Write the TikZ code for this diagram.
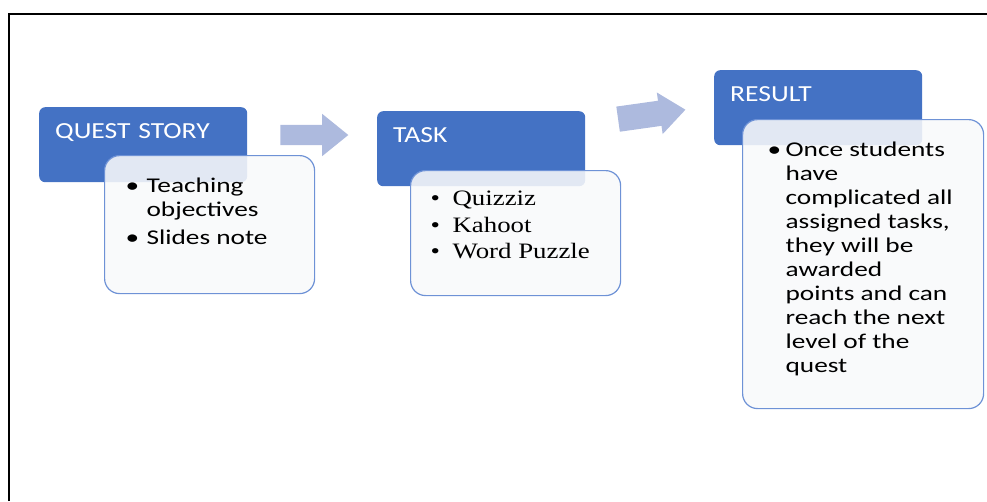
\documentclass[tikz,border=0pt]{standalone}
\usepackage{fontspec}
\usepackage{tikz}
\usetikzlibrary{shapes.arrows}

\newfontfamily\headfont{Carlito}[FakeStretch=1.2]
\newfontfamily\bodyfont{Carlito}[FakeStretch=1.3]
\newfontfamily\taskfont{Liberation Serif}[FakeStretch=1.22]

\definecolor{headblue}{RGB}{68,114,196}
\definecolor{bodyline}{RGB}{110,146,214}
\definecolor{bodyfill}{RGB}{248,249,250}
\definecolor{arrowfill}{RGB}{173,186,222}

\begin{document}
\begin{tikzpicture}[
  x=1pt, y=-1pt,
  headbox/.style={
    rectangle,
    rounded corners=6pt,
    fill=headblue,
    text=white,
    anchor=north west,
    align=left,
    inner sep=16pt,
    text width=176pt,
    text height=15pt,
    text depth=28pt,
    font=\headfont\fontsize{23}{27}\selectfont
  },
  bodybox/.style={
    rectangle,
    rounded corners=15pt,
    draw=bodyline,
    line width=1.2pt,
    fill=bodyfill,
    fill opacity=0.88,
    text opacity=1,
    anchor=north west,
    inner ysep=16pt,
    font=\bodyfont\fontsize{21}{24}\selectfont
  },
  flowarrow/.style={
    single arrow,
    fill=arrowfill,
    minimum height=68pt,
    minimum width=42pt,
    single arrow head extend=11pt,
    single arrow tip angle=78,
    inner xsep=0pt,
    inner ysep=10pt
  }
]
  \useasboundingbox (0,0) rectangle (987,501);
  \draw[line width=1.5pt] (9,501) -- (9,14) -- (987,14);

  \node[headbox] (questhead)  at (39,107)  {QUEST STORY};
  \node[bodybox, inner xsep=21pt, text height=20.7pt, text depth=85.3pt]
    (questbody) at (104,155) {\makebox[168pt][l]{%
      \begin{tabular}[t]{@{}p{21pt}@{}l@{}}
        \textbullet & Teaching\\
                    & objectives\\[4pt]
        \textbullet & Slides note
      \end{tabular}}};

  \node[headbox] (taskhead)   at (377,111) {TASK};
  \node[bodybox, inner xsep=20pt, text height=19pt, text depth=74pt,
        font=\taskfont\fontsize{22}{26.5}\selectfont]
    (taskbody) at (410,170) {\makebox[170pt][l]{%
      \begin{tabular}[t]{@{}p{22pt}@{}l@{}}
        \textbullet & Quizziz\\
        \textbullet & Kahoot\\
        \textbullet & Word Puzzle
      \end{tabular}}};

  \node[headbox] (resulthead) at (714,70)  {RESULT};
  \node[bodybox, inner xsep=25pt, text height=20.7pt, text depth=236.3pt]
    (resultbody) at (742,119) {\makebox[191pt][l]{%
      \begin{tabular}[t]{@{}p{18pt}@{}l@{}}
        \textbullet & Once students\\
                    & have\\
                    & complicated all\\
                    & assigned tasks,\\
                    & they will be\\
                    & awarded\\
                    & points and can\\
                    & reach the next\\
                    & level of the\\
                    & quest
      \end{tabular}}};

  \node[flowarrow] (arrowone) at (308,135) {};
  \node[flowarrow, rotate=8, inner ysep=12pt, single arrow head extend=8pt]
    (arrowtwo) at (644,115.5) {};
\end{tikzpicture}
\end{document}
